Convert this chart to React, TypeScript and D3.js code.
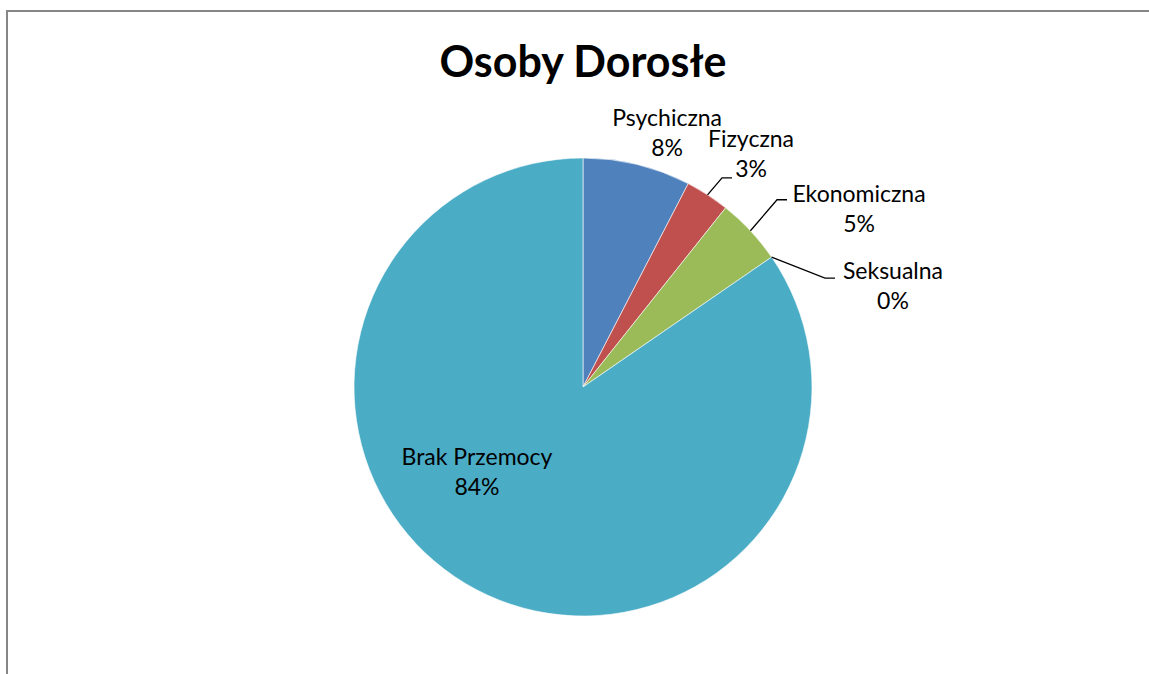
import React from "react";
import * as d3 from "d3";

const title = "Osoby Dorosłe";
const categories = ["Psychiczna", "Fizyczna", "Ekonomiczna", "Seksualna", "Brak Przemocy"];
const values = [7.6, 3.1, 4.7, 0, 84.6];
const pctLabels = ["8%", "3%", "5%", "0%", "84%"];
const colors = ["#4F81BD", "#C0504D", "#9BBB59", "#8064A2", "#4BACC6"];

type Leader = { ex: number; ey: number; len: number } | null;
// layout: first-line baseline offsets relative to the arc's outer mid-point (or centre if inside)
const labelLayout: { inside?: boolean; dx: number; dy: number; leader: Leader }[] = [
  { dx: 30, dy: -38.5, leader: null },
  { dx: 43.5, dy: -48, leader: { ex: 14.5, ey: -17, len: 10 } },
  { dx: 108.6, dy: -29, leader: { ex: 26.6, ey: -31, len: 10 } },
  { dx: 121.4, dy: 22, leader: { ex: 53.4, ey: 21, len: 10 } },
  { inside: true, dx: -106, dy: 78, leader: null },
];

const W = 1149;
const H = 674;
const cx = 583;
const cy = 387;
const R = 229;
const FONT = "Lato, 'Open Sans', sans-serif";

export default function App() {
  const pie = d3.pie<number>().sort(null).value((d) => d);
  const arcs = pie(values);
  const arcGen = d3.arc<d3.PieArcDatum<number>>().innerRadius(0).outerRadius(R);
  const pt = (a: number, r: number) => [r * Math.sin(a), -r * Math.cos(a)];

  return (
    <svg width={W} height={H} style={{ position: "absolute", left: 0, top: 0, background: "#fff" }}>
      <rect x={7} y={11} width={W + 20} height={H + 20} fill="#fff" stroke="#868686" strokeWidth={2} />
      <text x={cx} y={77} textAnchor="middle" fontFamily={FONT} fontWeight="bold" fontSize={43} fill="#000">
        {title}
      </text>
      <g transform={`translate(${cx},${cy})`}>
        {arcs.map((a, i) =>
          a.endAngle - a.startAngle > 0 ? (
            <path key={categories[i]} d={arcGen(a) || ""} fill={colors[i]} stroke="#fff" strokeWidth={0.6} />
          ) : null
        )}
        {arcs.map((a, i) => {
          const mid = (a.startAngle + a.endAngle) / 2;
          const lay = labelLayout[i];
          const [px, py] = pt(mid, R);
          const tx = lay.inside ? lay.dx : px + lay.dx;
          const ty = lay.inside ? lay.dy : py + lay.dy;
          return (
            <g key={"l" + i}>
              {lay.leader && (
                <polyline
                  points={`${px},${py} ${px + lay.leader.ex},${py + lay.leader.ey} ${px + lay.leader.ex + lay.leader.len},${py + lay.leader.ey}`}
                  fill="none"
                  stroke="#000"
                  strokeWidth={1.3}
                />
              )}
              <text x={tx} y={ty} textAnchor="middle" fontFamily={FONT} fontSize={23} fill="#000">
                <tspan x={tx} dy={0}>{categories[i]}</tspan>
                <tspan x={tx} dy={30}>{pctLabels[i]}</tspan>
              </text>
            </g>
          );
        })}
      </g>
    </svg>
  );
}
